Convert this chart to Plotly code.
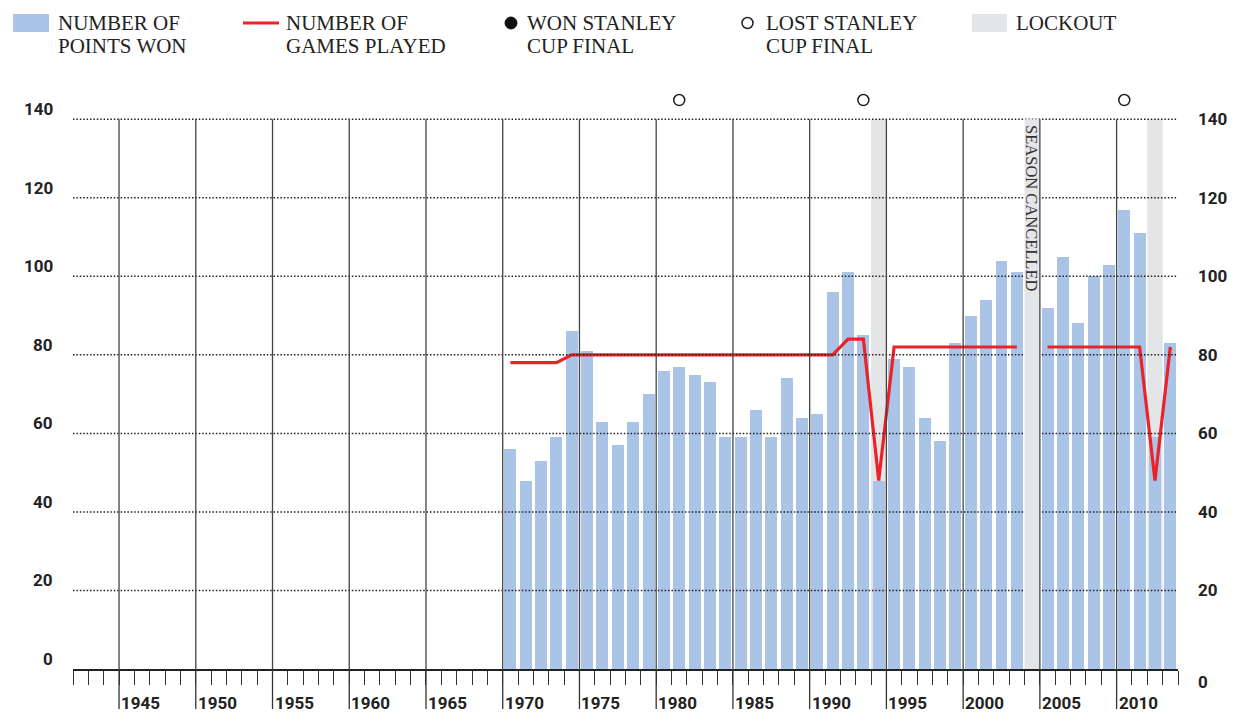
import plotly.graph_objects as go

# ---------------- data ----------------
seasons = list(range(1970, 2014))  # season start year (1970 = 1970-71)
points_won = [56, 48, 53, 59, 86, 81, 63, 57, 63, 70,
              76, 77, 75, 73, 59, 59, 66, 59, 74, 64,
              65, 96, 101, 85, 48, 79, 77, 64, 58, 83,
              90, 94, 104, 101, None, 92, 105, 88, 100, 103,
              117, 111, 59, 83]
games_played = [78, 78, 78, 78, 80, 80, 80, 80, 80, 80,
                80, 80, 80, 80, 80, 80, 80, 80, 80, 80,
                80, 80, 84, 84, 48, 82, 82, 82, 82, 82,
                82, 82, 82, 82, None, 82, 82, 82, 82, 82,
                82, 82, 48, 82]
won_cup_final = []
lost_cup_final = [1981, 1993, 2010]
lockout_seasons = [1994, 2012]
cancelled_seasons = [2004]
decade_labels = [1945, 1950, 1955, 1960, 1965, 1970, 1975, 1980, 1985, 1990, 1995, 2000, 2005, 2010]
y_ticks = [0, 20, 40, 60, 80, 100, 120, 140]

# ---------------- style ----------------
W, H = 1245, 725
ML, MR, MT, MB = 73, 67, 80, 56
PW, PH = W - ML - MR, H - MT - MB
Y_TOP = 150
BAR_C = "#a9c4e6"
RED = "#ec2229"
SHADE = "#e4e5e7"
SANS = "Roboto, Liberation Sans, sans-serif"
SERIF = "Liberation Serif, Times New Roman, serif"
X0, X1 = 1942, 2014
CUP_Y = 144.9


def px(xp):
    return (xp - ML) / PW


def py(yp):
    return (H - MB - yp) / PH


centers = [s + 0.5 for s in seasons]

fig = go.Figure()
fig.add_trace(go.Bar(x=centers, y=points_won, marker=dict(color=BAR_C, line=dict(width=0)),
                     width=0.78, hoverinfo="skip", showlegend=False))
fig.add_trace(go.Scatter(x=centers, y=games_played, mode="lines",
                         line=dict(color=RED, width=3.2), connectgaps=False,
                         hoverinfo="skip", showlegend=False))
fig.add_trace(go.Scatter(x=[s + 0.5 for s in lost_cup_final], y=[CUP_Y] * len(lost_cup_final),
                         mode="markers", cliponaxis=False,
                         marker=dict(symbol="circle", size=11, color="white",
                                     line=dict(color="#222", width=1.5)),
                         hoverinfo="skip", showlegend=False))
fig.add_trace(go.Scatter(x=[s + 0.5 for s in won_cup_final], y=[CUP_Y] * len(won_cup_final),
                         mode="markers", cliponaxis=False,
                         marker=dict(symbol="circle", size=12, color="#111"),
                         hoverinfo="skip", showlegend=False))

shapes = []
for s in lockout_seasons:
    shapes.append(dict(type="rect", xref="x", yref="y", x0=s, x1=s + 1, y0=0, y1=140,
                       fillcolor=SHADE, line=dict(width=0), layer="below"))
for v in y_ticks[1:]:
    shapes.append(dict(type="line", xref="x", yref="y", x0=X0, x1=X1, y0=v, y1=v,
                       line=dict(color="#222", width=1.5, dash="1.5px,1.9px"), layer="above"))
for s in cancelled_seasons:
    shapes.append(dict(type="rect", xref="x", yref="y", x0=s, x1=s + 1, y0=0, y1=140,
                       fillcolor=SHADE, line=dict(width=0), layer="above"))
for d in decade_labels:
    shapes.append(dict(type="line", xref="x", yref="y", x0=d, x1=d, y0=0, y1=140,
                       line=dict(color="#444", width=1.3), layer="above"))
for d in decade_labels:
    shapes.append(dict(type="line", xref="x", yref="paper", x0=d, x1=d, y0=0, y1=-40 / PH,
                       line=dict(color="#333", width=1.3), layer="above"))

# legend
LY = 23
shapes.append(dict(type="rect", xref="paper", yref="paper", x0=px(13), x1=px(49), y0=py(14), y1=py(32),
                   fillcolor=BAR_C, line=dict(width=0)))
shapes.append(dict(type="line", xref="paper", yref="paper", x0=px(243), x1=px(279), y0=py(LY), y1=py(LY),
                   line=dict(color=RED, width=3)))
shapes.append(dict(type="circle", xref="paper", yref="paper", x0=px(505), x1=px(517), y0=py(LY - 6), y1=py(LY + 6),
                   fillcolor="#111", line=dict(color="#111", width=1)))
shapes.append(dict(type="circle", xref="paper", yref="paper", x0=px(742), x1=px(753), y0=py(LY - 5.5), y1=py(LY + 5.5),
                   fillcolor="white", line=dict(color="#222", width=1.5)))
shapes.append(dict(type="rect", xref="paper", yref="paper", x0=px(972), x1=px(1007), y0=py(14), y1=py(32),
                   fillcolor=SHADE, line=dict(width=0)))

ann = []
legend_text = [(57, ["NUMBER OF", "POINTS WON"]),
               (285, ["NUMBER OF", "GAMES PLAYED"]),
               (526, ["WON STANLEY", "CUP FINAL"]),
               (765, ["LOST STANLEY", "CUP FINAL"]),
               (1015, ["LOCKOUT"])]
for xp, lines in legend_text:
    for i, t in enumerate(lines):
        ann.append(dict(text=t, xref="paper", yref="paper", x=px(xp), y=py(LY + 23 * i),
                        xanchor="left", yanchor="middle", showarrow=False,
                        font=dict(family=SERIF, size=21, color="#222"), borderpad=0))

LBL = dict(family=SANS, size=17, color="#222", weight="bold")
for d in decade_labels:
    ann.append(dict(text=str(d), xref="x", yref="paper", x=d, y=0, yshift=-33.5, xshift=1,
                    xanchor="left", yanchor="middle", showarrow=False, borderpad=0, font=LBL))
for v in y_ticks:
    ann.append(dict(text=str(v), xref="paper", yref="y", x=0, y=v, xshift=-19, yshift=10,
                    xanchor="right", yanchor="middle", showarrow=False, borderpad=0, font=LBL))
    ann.append(dict(text=str(v), xref="paper", yref="y", x=1, y=v, xshift=19, yshift=(-13 if v == 0 else 0),
                    xanchor="left", yanchor="middle", showarrow=False, borderpad=0, font=LBL))

for s in cancelled_seasons:
    ann.append(dict(text="SEASON CANCELLED", xref="x", yref="y", x=s + 0.5, y=140, yshift=-5,
                    textangle=90, xanchor="center", yanchor="top", showarrow=False, borderpad=0,
                    font=dict(family=SERIF, size=16.5, color="#333")))

fig.update_layout(
    width=W, height=H,
    margin=dict(l=ML, r=MR, t=MT, b=MB, pad=0),
    paper_bgcolor="white", plot_bgcolor="white",
    bargap=0, showlegend=False,
    xaxis=dict(range=[X0, X1], showgrid=False, zeroline=False, showticklabels=False,
               showline=True, linecolor="#222", linewidth=1.5,
               ticks="outside", tick0=X0, dtick=1, ticklen=14, tickwidth=1.2, tickcolor="#333",
               fixedrange=True),
    yaxis=dict(range=[0, Y_TOP], showgrid=False, zeroline=False, showticklabels=False,
               showline=False, fixedrange=True),
    shapes=shapes, annotations=ann,
)

fig.write_html("out.html", config={"displayModeBar": False},
               post_script="document.body.style.margin='0';")
